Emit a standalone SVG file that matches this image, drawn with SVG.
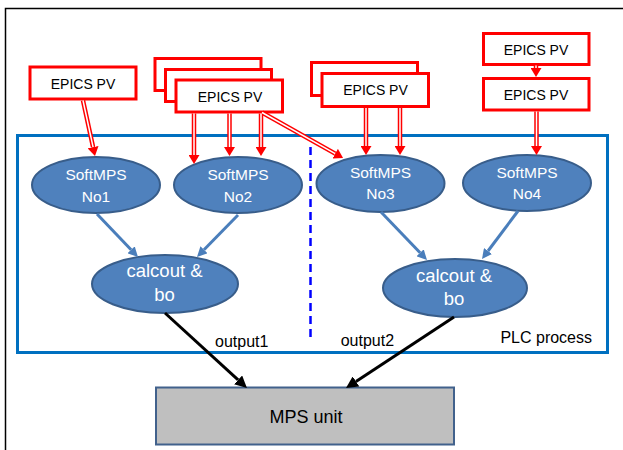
<svg xmlns="http://www.w3.org/2000/svg" width="623" height="450" viewBox="0 0 623 450">
  <defs>
    <style>
      text { font-family: "Liberation Sans", Arial, sans-serif; }
      .pv rect { fill: #ffffff; stroke: #ff0000; stroke-width: 3; }
      .pv text { font-size: 14px; fill: #000000; text-anchor: middle; }
      .proc ellipse { fill: #4f81bd; stroke: #385d8a; stroke-width: 2; }
      .proc text { fill: #ffffff; text-anchor: middle; }
      .soft text { font-size: 15.5px; }
      .calc text { font-size: 18.5px; }
      .label { font-size: 16px; fill: #000000; }
      .red-out { stroke: #ff0000; stroke-width: 4.5; fill: none; }
      .red-in { stroke: #ffffff; stroke-width: 1.5; fill: none; }
      .blue-arrow { stroke: #4a7ebb; stroke-width: 3; fill: none; marker-end: url(#headBlue); }
      .black-arrow { stroke: #000000; stroke-width: 3; fill: none; marker-end: url(#headBlack); }
    </style>
    <marker id="headRed" viewBox="0 0 9 11" refX="0" refY="5.5" markerUnits="userSpaceOnUse" markerWidth="9" markerHeight="11" orient="auto">
      <path d="M0,0 L9,5.5 L0,11 z" fill="#ff0000"/>
    </marker>
    <marker id="headBlue" viewBox="0 0 10 10" refX="0" refY="5" markerUnits="userSpaceOnUse" markerWidth="10" markerHeight="10" orient="auto">
      <path d="M0,0 L10,5 L0,10 z" fill="#4a7ebb"/>
    </marker>
    <marker id="headBlack" viewBox="0 0 12 12" refX="0" refY="6" markerUnits="userSpaceOnUse" markerWidth="12" markerHeight="12" orient="auto">
      <path d="M0,0 L12,6 L0,12 z" fill="#000000"/>
    </marker>
  </defs>

  <rect width="623" height="450" fill="#ffffff"/>

  <!-- page frame -->
  <path d="M5.5,450 V8.5 H623" fill="none" stroke="#000000" stroke-width="1.5"/>

  <!-- PLC process boundary -->
  <g id="plc-process">
    <rect x="17.5" y="135.5" width="590" height="217" fill="none" stroke="#0070c0" stroke-width="3"/>
    <text class="label" x="592" y="343.3" text-anchor="end" font-size="15">PLC process</text>
  </g>

  <!-- divider between the two output chains -->
  <line x1="310.5" y1="147" x2="310.5" y2="341" stroke="#0000ff" stroke-width="2.5" stroke-dasharray="8,5"/>

  <!-- EPICS PV sources -->
  <g id="pv1" class="pv">
    <rect x="30" y="67" width="106" height="32"/>
    <text x="83" y="89">EPICS PV</text>
  </g>
  <g id="pv2" class="pv">
    <rect x="155" y="58.5" width="106" height="32"/>
    <rect x="165.5" y="69.5" width="106" height="32"/>
    <rect x="176" y="80" width="106.5" height="32"/>
    <text x="230" y="102">EPICS PV</text>
  </g>
  <g id="pv3" class="pv">
    <rect x="311.5" y="62.5" width="106" height="33"/>
    <rect x="322" y="73.5" width="106.5" height="33"/>
    <text x="375.5" y="95">EPICS PV</text>
  </g>
  <g id="pv4a" class="pv">
    <rect x="483.5" y="33.5" width="105.5" height="31"/>
    <text x="536" y="55">EPICS PV</text>
  </g>
  <g id="pv4b" class="pv">
    <rect x="483.5" y="78.5" width="105.5" height="31.5"/>
    <text x="536" y="100">EPICS PV</text>
  </g>

  <!-- SoftMPS records -->
  <g id="softmps1" class="proc soft">
    <ellipse cx="96" cy="185" rx="64" ry="28"/>
    <text x="96" y="180">SoftMPS</text>
    <text x="96" y="201.7">No1</text>
  </g>
  <g id="softmps2" class="proc soft">
    <ellipse cx="238" cy="185" rx="64" ry="28"/>
    <text x="238" y="180">SoftMPS</text>
    <text x="238" y="201.7">No2</text>
  </g>
  <g id="softmps3" class="proc soft">
    <ellipse cx="380.5" cy="183.5" rx="64" ry="28.5"/>
    <text x="380.5" y="178.3">SoftMPS</text>
    <text x="380.5" y="199">No3</text>
  </g>
  <g id="softmps4" class="proc soft">
    <ellipse cx="527" cy="183" rx="64" ry="28"/>
    <text x="527" y="178.3">SoftMPS</text>
    <text x="527" y="199">No4</text>
  </g>

  <!-- calcout & bo records -->
  <g id="calc1" class="proc calc">
    <ellipse cx="165" cy="284" rx="73" ry="29"/>
    <text x="164.5" y="276.7">calcout &amp;</text>
    <text x="164.5" y="300.7">bo</text>
  </g>
  <g id="calc2" class="proc calc">
    <ellipse cx="455" cy="288" rx="72" ry="29"/>
    <text x="454" y="281.7">calcout &amp;</text>
    <text x="454" y="305">bo</text>
  </g>

  <!-- MPS unit -->
  <g id="mps-unit">
    <rect x="156" y="387.5" width="298" height="57" fill="#bfbfbf" stroke="#41618c" stroke-width="2"/>
    <text x="306" y="422.7" font-size="18" text-anchor="middle" fill="#000000">MPS unit</text>
  </g>

  <!-- connectors -->
  <g id="connectors">
    <!-- PV links: double red lines -->
    <g class="red-out">
      <path d="M83,100.5 L93.1,147.2"/>
      <path d="M194,113.5 V155"/>
      <path d="M229.5,113.5 V147"/>
      <path d="M261,113.5 V147"/>
      <path d="M262,112.5 L335.2,153.6"/>
      <path d="M366,108 V146"/>
      <path d="M400,108 V146"/>
      <path d="M536.5,111.5 V146"/>
      <path d="M536,65.5 V68"/>
    </g>
    <g class="red-in">
      <path d="M83,100.5 L93.1,147.2"/>
      <path d="M194,113.5 V155"/>
      <path d="M229.5,113.5 V147"/>
      <path d="M261,113.5 V147"/>
      <path d="M262,112.5 L335.2,153.6"/>
      <path d="M366,108 V146"/>
      <path d="M400,108 V146"/>
      <path d="M536.5,111.5 V146"/>
      <path d="M536,65.5 V68"/>
    </g>
    <g fill="none" stroke="none" marker-end="url(#headRed)">
      <path d="M83,100.5 L93.1,147.2" stroke="none"/>
      <path d="M194,113.5 V155"/>
      <path d="M229.5,113.5 V147"/>
      <path d="M261,113.5 V147"/>
      <path d="M262,112.5 L335.2,153.6"/>
      <path d="M366,108 V146"/>
      <path d="M400,108 V146"/>
      <path d="M536.5,111.5 V146"/>
      <path d="M536,65.5 V68"/>
    </g>

    <!-- record links -->
    <path class="blue-arrow" d="M97,214 L131.1,249.8"/>
    <path class="blue-arrow" d="M238,215 L204,249.8"/>
    <path class="blue-arrow" d="M381,212 L420.1,252.8"/>
    <path class="blue-arrow" d="M518,211 L488,251"/>

    <!-- outputs to the MPS unit -->
    <path class="black-arrow" d="M165,313 L238.1,379.9"/>
    <path class="black-arrow" d="M454,317 L356,381.4"/>
    <text class="label" x="215" y="346.7">output1</text>
    <text class="label" x="340.7" y="346">output2</text>
  </g>
</svg>
